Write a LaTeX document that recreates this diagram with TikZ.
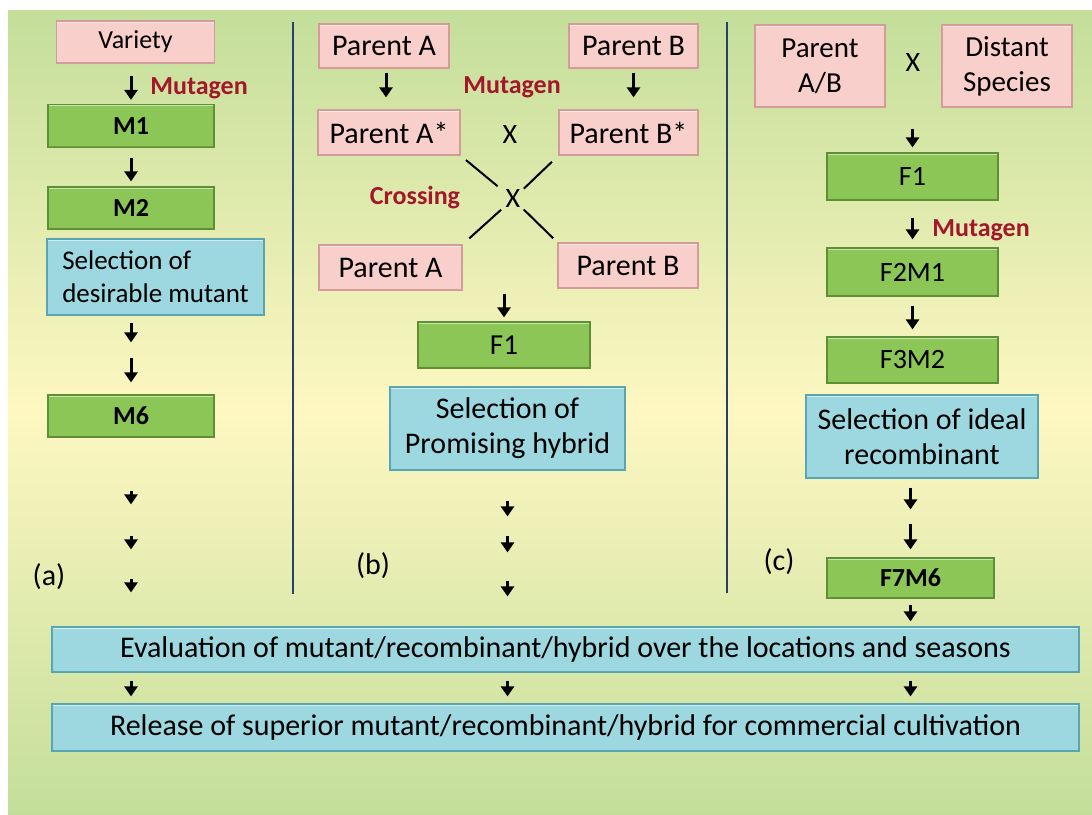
\documentclass[tikz,border=0pt]{standalone}
\usepackage{fontspec}
\setmainfont{Carlito}
\usetikzlibrary{arrows.meta, positioning, calc}

\definecolor{bggreen}{HTML}{C3DE9A}
\definecolor{bgyellow}{HTML}{FEF7C2}
\definecolor{pinkfill}{HTML}{F9CFCB}
\definecolor{pinkedge}{HTML}{D49C98}
\definecolor{greenfill}{HTML}{8BC657}
\definecolor{greenedge}{HTML}{5E8F34}
\definecolor{bluefill}{HTML}{9DD8E1}
\definecolor{blueedge}{HTML}{5AA5B2}
\definecolor{mutred}{HTML}{A3172B}
\definecolor{sepline}{HTML}{2B3F6B}

\begin{document}
\begin{tikzpicture}[
    x=1pt, y=-1pt,
    every node/.style={align=center, inner sep=0pt},
    box/.style={draw, line width=1.2pt, font=\fontsize{26}{32}\selectfont,
                path picture={
                  \draw[white, opacity=0.55, line width=3pt]
                    (path picture bounding box.north west) -- (path picture bounding box.north east);
                  \draw[black, opacity=0.2, line width=3pt]
                    (path picture bounding box.south west) -- (path picture bounding box.south east);}},
    pinkbox/.style={box, fill=pinkfill, draw=pinkedge, font=\fontsize{30}{35}\selectfont},
    greenbox/.style={box, fill=greenfill, draw=greenedge},
    bluebox/.style={box, fill=bluefill, draw=blueedge, font=\fontsize{30}{35}\selectfont},
    agent/.style={font=\fontsize{26}{30}\selectfont\bfseries, text=mutred},
    crosssign/.style={font=\fontsize{28}{32}\selectfont},
    panel/.style={font=\fontsize{30}{34}\selectfont},
    arr/.style={-{Triangle[length=10pt, width=13pt]}, line width=3pt},
    tick/.style={-{Triangle[length=10pt, width=13pt]}, line width=3pt},
    crossline/.style={line width=2pt}
]

% Page and background
\useasboundingbox (0,0) rectangle (1092,814);
\shade[top color=bggreen, bottom color=bggreen, middle color=bgyellow]
  (8,10) rectangle (1092,814);

% Separators between the three schemes
\draw[sepline, line width=1.2pt] (293,22) -- (293,594);
\draw[sepline, line width=1.2pt] (727,22) -- (727,593);

% 1) Scheme (a): mutation breeding
\node[pinkbox, font=\fontsize{26}{32}\selectfont, minimum width=158, minimum height=42]
  (variety) at (135.5,42) {Variety};
\node[greenbox, minimum width=166, minimum height=43] (m1) at (131,126) {\bfseries M1};
\node[greenbox, minimum width=166, minimum height=42] (m2) at (131,208) {\bfseries M2};
\node[bluebox, font=\fontsize{27}{33}\selectfont, align=left, minimum width=217, minimum height=76]
  (selA) at (155.5,277) {Selection of\\desirable mutant};
\node[greenbox, minimum width=166, minimum height=42] (m6) at (131,416) {\bfseries M6};
\node[agent] (mutA) at (199,88) {Mutagen};
\node[panel] (labA) at (49,577) {(a)};

\draw[arr, shorten <=12, shorten >=4] (m1.north |- variety.south) -- (m1.north);
\draw[arr, shorten <=10, shorten >=5] (m1.south) -- (m2.north);
\draw[arr, shorten <=7, shorten >=52] (m6.north |- selA.south) -- (m6.north);
\draw[arr, shorten <=42, shorten >=12] (m6.north |- selA.south) -- (m6.north);

% 2) Scheme (b): mutation + hybridisation
\node[pinkbox, minimum width=130, minimum height=44] (pa) at (384,46) {Parent A};
\node[pinkbox, minimum width=129, minimum height=44] (pb) at (633.5,46) {Parent B};
\node[pinkbox, minimum width=142, minimum height=45] (pas) at (389,132.5) {Parent A*};
\node[pinkbox, minimum width=139, minimum height=45] (pbs) at (628.5,132.5) {Parent B*};
\node[pinkbox, minimum width=143, minimum height=45] (pa2) at (390.5,267.5) {Parent A};
\node[pinkbox, minimum width=140, minimum height=45] (pb2) at (628,265.5) {Parent B};
\node[agent] (mutB) at (512,87) {Mutagen};
\node[crosssign] (xb) at (510,135) {X};
\node[crosssign] (xc) at (513,199) {X};
\node[agent] (crossing) at (415,198) {Crossing};
\node[greenbox, font=\fontsize{29}{34}\selectfont, minimum width=172, minimum height=46]
  (f1b) at (504,345) {F1};
\node[bluebox, minimum width=235, minimum height=83]
  (selB) at (507.5,428.5) {Selection of\\Promising hybrid};
\node[panel] (labB) at (373,566) {(b)};

\draw[arr, shorten <=4, shorten >=12] (pa.south -| 386,0) -- (pas.north -| 386,0);
\draw[arr, shorten <=4, shorten >=12] (pb.south) -- (pbs.north -| pb.south);
\draw[crossline, shorten <=7, shorten >=20] (pas.south east) -- (xc.center);
\draw[crossline, shorten <=9, shorten >=15] (pbs.south west) -- (xc.center);
\draw[crossline, shorten <=9, shorten >=16] (pa2.north east) -- (xc.center);
\draw[crossline, shorten <=6, shorten >=15] (pb2.north west) -- (xc.center);
\draw[arr, shorten <=3, shorten >=4] (f1b.north |- pa2.south) -- (f1b.north);

% 3) Scheme (c): distant hybridisation + mutation
\node[pinkbox, font=\fontsize{29}{35}\selectfont, minimum width=130, minimum height=82]
  (pab) at (820,66) {Parent\\A/B};
\node[pinkbox, font=\fontsize{29}{35}\selectfont, minimum width=130, minimum height=82]
  (ds) at (1007,66) {Distant\\Species};
\node[crosssign] (xa) at (913,63) {X};
\node[greenbox, font=\fontsize{28}{34}\selectfont, minimum width=171, minimum height=47]
  (f1c) at (912.5,176.5) {F1};
\node[greenbox, font=\fontsize{28}{34}\selectfont, minimum width=171, minimum height=48]
  (f2m1) at (912.5,272) {F2M1};
\node[greenbox, font=\fontsize{28}{34}\selectfont, minimum width=171, minimum height=46]
  (f3m2) at (912.5,360) {F3M2};
\node[bluebox, minimum width=232, minimum height=83]
  (selC) at (922,436.5) {Selection of ideal\\recombinant};
\node[greenbox, minimum width=167, minimum height=40] (f7m6) at (910.5,578) {\bfseries F7M6};
\node[agent] (mutC) at (981,230) {Mutagen};
\node[panel] (labC) at (779,562) {(c)};

\draw[arr, shorten <=21, shorten >=5] (f1c.north |- ds.south) -- (f1c.north);
\draw[arr, shorten <=17, shorten >=8] (f1c.south) -- (f2m1.north);
\draw[arr, shorten <=9, shorten >=7] (f2m1.south) -- (f3m2.north);
\draw[arr, shorten <=9, shorten >=48] (f7m6.north |- selC.south) -- (f7m6.north);
\draw[arr, shorten <=45, shorten >=8] (f7m6.north |- selC.south) -- (f7m6.north);

% 4) Common evaluation and release
\node[bluebox, minimum width=1027, minimum height=45]
  (eval) at (565.5,649.5) {Evaluation of mutant/recombinant/hybrid over the locations and seasons};
\node[bluebox, minimum width=1027, minimum height=47]
  (rel) at (565.5,727.5) {Release of superior mutant/recombinant/hybrid for commercial cultivation};

% Dotted runs of small arrows down to the evaluation
\foreach \s/\e in {53/122, 98/77, 141/34}
  \draw[tick, shorten <=\s, shorten >=\e] (m6.south) -- (eval.north -| m6.south);
\foreach \s/\e in {30/110, 65/74, 110/30}
  \draw[tick, shorten <=\s, shorten >=\e] (selB.south) -- (eval.north -| selB.south);
\draw[tick, shorten <=6, shorten >=5] (f7m6.south) -- (eval.north -| f7m6.south);
\foreach \c in {m6, selB, f7m6}
  \draw[tick, shorten <=8, shorten >=7] (eval.south -| \c) -- (rel.north -| \c);

\end{tikzpicture}
\end{document}
